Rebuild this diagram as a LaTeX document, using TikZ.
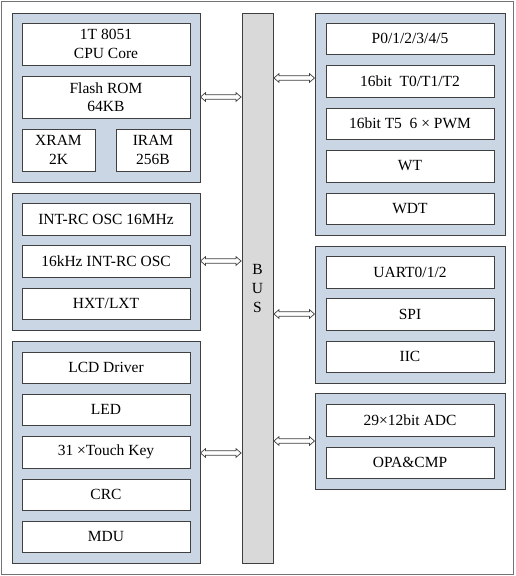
\documentclass[tikz,border=0pt]{standalone}
\usepackage{fontspec}
\setmainfont{Liberation Serif}
\usetikzlibrary{arrows.meta}
\definecolor{grp}{HTML}{CAD6E4}
\definecolor{busc}{HTML}{D9D9D9}
\definecolor{edge}{HTML}{404040}
\tikzset{
  box/.style={draw=edge, line width=0.9pt, fill=white, inner sep=0pt, align=center,
    font=\fontsize{15.5}{18.5}\selectfont},
  grpbox/.style={draw=edge, line width=0.9pt, fill=grp, inner sep=0pt},
  busbox/.style={draw=edge, line width=0.9pt, fill=busc, inner sep=0pt},
  arr/.style={draw=edge, line width=0.7pt, fill=white, line join=miter},
}
% #1 name, #2 style, #3 x1, #4 y1, #5 x2, #6 y2, #7 text
\newcommand\mybx[7]{%
  \node[#2, minimum width={(#5-#3)*1pt}, minimum height={(#6-#4)*1pt}]
    (#1) at ({(#3+#5)/2*1pt},{-(#4+#6)/2*1pt}) {#7};}
% hollow double-headed arrow between left point #1 and right point #2
\newcommand\dblarr[2]{%
  \draw[arr] (#1) -- ([shift={(5,4.3)}]#1) -- ([shift={(5,2.2)}]#1)
    -- ([shift={(-5,2.2)}]#2) -- ([shift={(-5,4.3)}]#2) -- (#2)
    -- ([shift={(-5,-4.3)}]#2) -- ([shift={(-5,-2.2)}]#2)
    -- ([shift={(5,-2.2)}]#1) -- ([shift={(5,-4.3)}]#1) -- cycle;}
\begin{document}
\begin{tikzpicture}[x=1pt,y=1pt]
\useasboundingbox (0,0) rectangle (515,-576);
\draw[draw=gray!90!black, line width=0.9pt] (1.5,-1.5) rectangle (513.5,-574.5);
% bus
\mybx{bus}{busbox}{242}{13}{273}{563}{}
\node[font=\fontsize{15.5}{19}\selectfont, align=center, inner sep=0pt] (bustxt) at (bus.center) {B\\U\\S};
% left groups
\mybx{L1}{grpbox}{12}{13}{200}{182}{}
\mybx{cpu}{box}{22}{23}{190}{65}{1T 8051\\CPU Core}
\mybx{flash}{box}{22}{76}{190}{118}{Flash ROM\\64KB}
\mybx{xram}{box}{22}{129}{95}{171}{XRAM\\2K}
\mybx{iram}{box}{116}{129}{190}{171}{IRAM\\256B}
\mybx{L2}{grpbox}{12}{193}{200}{330}{}
\mybx{osc1}{box}{22}{203}{190}{235}{INT-RC OSC 16MHz}
\mybx{osc2}{box}{22}{245}{190}{277}{16kHz INT-RC OSC}
\mybx{hxt}{box}{22}{288}{190}{319}{HXT/LXT}
\mybx{L3}{grpbox}{12}{341}{200}{563}{}
\mybx{lcd}{box}{22}{352}{190}{383}{LCD Driver}
\mybx{led}{box}{22}{394}{190}{425}{LED}
\mybx{touch}{box}{22}{436}{190}{468}{31 ×Touch Key}
\mybx{crc}{box}{22}{479}{190}{510}{CRC}
\mybx{mdu}{box}{22}{521}{190}{552}{MDU}
% right groups
\mybx{R1}{grpbox}{315}{13}{505}{235}{}
\mybx{port}{box}{326}{23}{494}{54}{P0/1/2/3/4/5}
\mybx{tmr}{box}{326}{65}{494}{97}{16bit\ \ T0/T1/T2}
\mybx{pwm}{box}{326}{108}{494}{139}{16bit T5\ \ 6 × PWM}
\mybx{wt}{box}{326}{150}{494}{182}{WT}
\mybx{wdt}{box}{326}{193}{494}{224}{WDT}
\mybx{R2}{grpbox}{315}{246}{505}{383}{}
\mybx{uart}{box}{326}{256}{494}{288}{UART0/1/2}
\mybx{spi}{box}{326}{298}{494}{330}{SPI}
\mybx{iic}{box}{326}{341}{494}{372}{IIC}
\mybx{R3}{grpbox}{315}{393}{505}{489}{}
\mybx{adc}{box}{326}{404}{494}{436}{29×12bit ADC}
\mybx{opa}{box}{326}{447}{494}{478}{OPA\&CMP}
% connectors
\coordinate (a1) at (200.5,-97);
\coordinate (a2) at (200.5,-261);
\coordinate (a3) at (200.5,-453);
\coordinate (b1) at (314.5,-78);
\coordinate (b2) at (314.5,-314);
\coordinate (b3) at (314.5,-441);
\coordinate (a1e) at ([xshift=-0.5pt]a1 -| bus.west);
\coordinate (a2e) at ([xshift=-0.5pt]a2 -| bus.west);
\coordinate (a3e) at ([xshift=-0.5pt]a3 -| bus.west);
\coordinate (b1s) at ([xshift=0.5pt]b1 -| bus.east);
\coordinate (b2s) at ([xshift=0.5pt]b2 -| bus.east);
\coordinate (b3s) at ([xshift=0.5pt]b3 -| bus.east);
\dblarr{a1}{a1e}
\dblarr{a2}{a2e}
\dblarr{a3}{a3e}
\dblarr{b1s}{b1}
\dblarr{b2s}{b2}
\dblarr{b3s}{b3}
\end{tikzpicture}
\end{document}
